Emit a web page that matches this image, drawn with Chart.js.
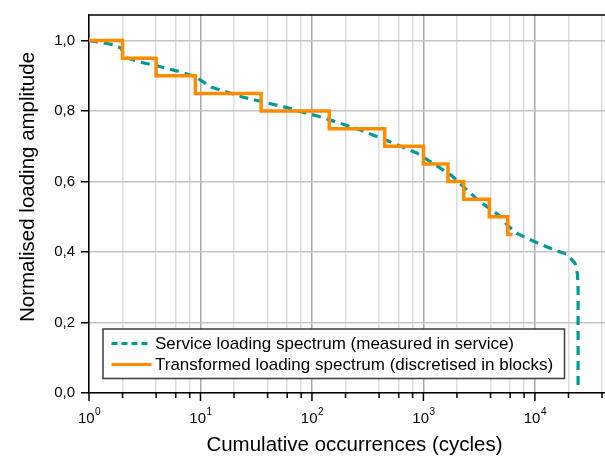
<!DOCTYPE html>
<html>
<head>
<meta charset="utf-8">
<script src="https://cdn.jsdelivr.net/npm/chart.js@4.4.0/dist/chart.umd.min.js"></script>
<style>
  html, body { margin: 0; padding: 0; overflow: hidden; background: #fff; }
  canvas { display: block; }
</style>
</head>
<body>
<canvas id="chartSpectrum" width="620" height="459"></canvas>
<script>
// datos
const serviceCycles = [1, 1.3, 1.64, 1.95, 2.08, 2.86, 4.2, 6.1, 9, 12.6, 24.2, 57.3, 91, 112, 172, 269, 490, 871, 1260, 1800, 3090, 5010, 5620, 6920, 8410, 10500, 12900, 15850, 19500, 22900, 24100, 24400, 24400];
const serviceAmplitude = [1.0, 0.994, 0.988, 0.978, 0.953, 0.939, 0.927, 0.914, 0.897, 0.867, 0.839, 0.811, 0.793, 0.786, 0.767, 0.747, 0.714, 0.681, 0.649, 0.616, 0.547, 0.499, 0.477, 0.453, 0.44, 0.426, 0.414, 0.403, 0.393, 0.368, 0.337, 0.30, 0.015];

const blockCycles = [1, 2, 4, 9, 35, 143, 450, 1000, 1660, 2300, 3900, 5700, 6300];
const blockAmplitude = [1.0, 0.95, 0.90, 0.85, 0.80, 0.75, 0.70, 0.65, 0.60, 0.55, 0.50, 0.45, 0.45];

const xDecades = [1, 10, 100, 1000, 10000];
const xExponents = ['0', '1', '2', '3', '4'];
const xMinorSteps = [2, 4, 6, 8];
const yTicks = [0, 0.2, 0.4, 0.6, 0.8, 1.0];

const seriesLabels = [
  'Service loading spectrum (measured in service)',
  'Transformed loading spectrum (discretised in blocks)'
];
const yTitle = 'Normalised loading amplitude';

const FONT = "'Liberation Sans', Arial, sans-serif";
const tealColor = '#00999a';
const orangeColor = '#ff8c00';

function toPoints(xs, ys) {
  return xs.map((x, i) => ({ x: x, y: ys[i] }));
}

// ticks del eje x: decadas + 2,4,6,8
function buildXTicks(max) {
  const ticks = [];
  xDecades.forEach(d => {
    ticks.push({ value: d, major: true });
    xMinorSteps.forEach(m => {
      if (d * m <= max) ticks.push({ value: d * m });
    });
  });
  return ticks;
}

// marcas y etiquetas 10^n, borde superior, titulo y y leyenda
const extrasPlugin = {
  id: 'extras',
  afterDraw(chart) {
    const ctx = chart.ctx;
    const area = chart.chartArea;
    const xScale = chart.scales.x;
    ctx.save();

    // borde superior
    ctx.strokeStyle = '#000';
    ctx.lineWidth = 1.5;
    ctx.beginPath();
    ctx.moveTo(area.left, area.top);
    ctx.lineTo(area.right, area.top);
    ctx.stroke();

    // marcas del eje x
    xScale.ticks.forEach(t => {
      const px = xScale.getPixelForValue(t.value);
      const isDecade = xDecades.includes(t.value);
      ctx.beginPath();
      ctx.moveTo(px, area.bottom);
      ctx.lineTo(px, area.bottom + (isDecade ? 8 : 5));
      ctx.stroke();
    });

    // etiquetas 10^n
    ctx.fillStyle = '#000';
    ctx.textBaseline = 'alphabetic';
    ctx.textAlign = 'left';
    xDecades.forEach((d, i) => {
      const px = xScale.getPixelForValue(d);
      ctx.font = '15px ' + FONT;
      const wBase = ctx.measureText('10').width;
      ctx.font = '10px ' + FONT;
      const wExp = ctx.measureText(xExponents[i]).width;
      const start = px - (wBase + wExp) / 2;
      ctx.font = '15px ' + FONT;
      ctx.fillText('10', start, 423);
      ctx.font = '10px ' + FONT;
      ctx.fillText(xExponents[i], start + wBase + 0.5, 414.5);
    });

    // titulo eje y
    ctx.save();
    ctx.translate(28, 187);
    ctx.rotate(-Math.PI / 2);
    ctx.font = '20.5px ' + FONT;
    ctx.textAlign = 'center';
    ctx.textBaseline = 'middle';
    ctx.fillText(yTitle, 0, 0);
    ctx.restore();

    // leyenda
    const box = { left: 103, top: 329, right: 564.5, bottom: 378.5 };
    ctx.fillStyle = '#fff';
    ctx.fillRect(box.left, box.top, box.right - box.left, box.bottom - box.top);
    ctx.strokeStyle = '#3c3c3c';
    ctx.lineWidth = 1.5;
    ctx.strokeRect(box.left, box.top, box.right - box.left, box.bottom - box.top);

    ctx.font = '17px ' + FONT;
    ctx.textAlign = 'left';
    ctx.textBaseline = 'middle';
    seriesLabels.forEach((label, i) => {
      const y = 343.5 + i * 21;
      ctx.strokeStyle = i === 0 ? tealColor : orangeColor;
      ctx.lineWidth = 3;
      ctx.setLineDash(i === 0 ? [6, 4] : []);
      ctx.beginPath();
      ctx.moveTo(111.5, y);
      ctx.lineTo(151.5, y);
      ctx.stroke();
      ctx.setLineDash([]);
      ctx.fillStyle = '#000';
      ctx.fillText(label, 155, y + 1);
    });

    ctx.restore();
  }
};

const xMax = 58000;

new Chart(document.getElementById('chartSpectrum'), {
  type: 'line',
  data: {
    datasets: [
      {
        label: seriesLabels[0],
        data: toPoints(serviceCycles, serviceAmplitude),
        borderColor: tealColor,
        borderWidth: 3.2,
        borderDash: [9, 6],
        pointRadius: 0,
        tension: 0,
        fill: false,
        order: 2
      },
      {
        label: seriesLabels[1],
        data: toPoints(blockCycles, blockAmplitude),
        borderColor: orangeColor,
        borderWidth: 3.5,
        stepped: true,
        pointRadius: 0,
        fill: false,
        order: 1
      }
    ]
  },
  options: {
    responsive: false,
    animation: false,
    layout: { padding: { top: 8, right: 0, left: 0, bottom: 0 } },
    plugins: {
      legend: { display: false },
      tooltip: { enabled: false }
    },
    scales: {
      x: {
        type: 'logarithmic',
        min: 1,
        max: xMax,
        afterBuildTicks(scale) {
          scale.ticks = buildXTicks(xMax);
        },
        afterFit(scale) {
          scale.height = 66;
        },
        ticks: { display: false },
        grid: {
          drawTicks: false,
          lineWidth: 1.5,
          color: ctx => (ctx.tick && xDecades.includes(ctx.tick.value)) ? '#a8a8a8' : '#dcdcdc'
        },
        border: { display: true, color: '#000', width: 1.5 },
        title: {
          display: true,
          text: 'Cumulative occurrences (cycles)',
          color: '#000',
          font: { family: FONT, size: 20.5, lineHeight: 1 },
          padding: { top: 0, bottom: 3 }
        }
      },
      y: {
        min: 0,
        max: 1.0724,
        afterBuildTicks(scale) {
          scale.ticks = yTicks.map(v => ({ value: v }));
        },
        afterFit(scale) {
          scale.width = 89;
        },
        ticks: {
          color: '#000',
          padding: 6,
          font: { family: FONT, size: 15 },
          callback: v => v.toFixed(1).replace('.', ',')
        },
        grid: {
          color: '#c4c4c4',
          lineWidth: 1.5,
          tickColor: '#000',
          tickLength: 8,
          tickWidth: 1.5
        },
        border: { display: true, color: '#000', width: 1.5 }
      }
    }
  },
  plugins: [extrasPlugin]
});
</script>
</body>
</html>
